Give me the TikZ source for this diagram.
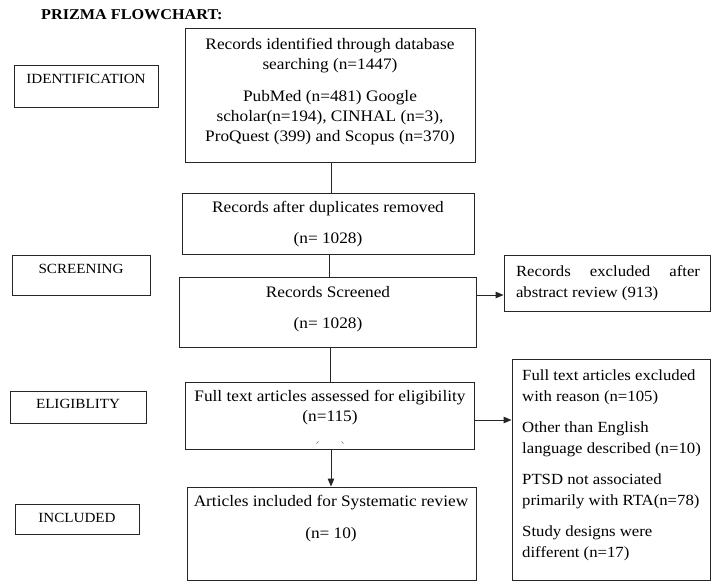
\documentclass[tikz,border=0pt]{standalone}
\usepackage{fontspec}
\setmainfont[FakeStretch=1.08]{Liberation Serif}
\usetikzlibrary{arrows.meta,fit}
\begin{document}
\begin{tikzpicture}[x=1pt,y=-1pt,
  box/.style={draw=black!85, line width=0.9pt, inner sep=0pt},
  txt/.style={font=\fontsize{16}{20}\selectfont, align=center, inner sep=0pt},
  side/.style={font=\fontsize{15.5}{20.5}\selectfont, inner sep=0pt},
  lbl/.style={font=\fontsize{14}{16}\selectfont, inner sep=0pt},
  link/.style={draw=black!85, line width=1pt},
  arr/.style={link, -{Triangle[length=8pt,width=6.5pt]}}]
\useasboundingbox (0,0) rectangle (712,582);

% heading
\node[font=\bfseries\fontsize{15}{16}\selectfont, anchor=west, inner sep=0pt] (title) at (41,15) {PRIZMA FLOWCHART:};

% stage labels on the left
\node[box, fit={(14,65) (158,107)}] (lid) {};
\node[lbl] (lidt) at (86,79) {IDENTIFICATION};
\node[box, fit={(12,255) (150,295)}] (lsc) {};
\node[lbl] (lsct) at (81,268.5) {SCREENING};
\node[box, fit={(10,391) (146,423)}] (lel) {};
\node[lbl] (lelt) at (78,404) {ELIGIBLITY};
\node[box, fit={(15,504) (139,534)}] (lin) {};
\node[lbl] (lint) at (77,518) {INCLUDED};

% main flow
\node[box, fit={(185,28) (475,162)}] (ident) {};
\node[txt] (identt) at (330,91.5) {Records identified through database\\ searching (n=1447)\\[12pt] PubMed (n=481) Google\\ scholar(n=194), CINHAL (n=3),\\ ProQuest (399) and Scopus (n=370)};

\node[box, fit={(182,193) (474,254)}] (dup) {};
\node[txt] (dupt) at (328,224) {Records after duplicates removed\\[11pt] (n= 1028)};

\node[box, fit={(179,277) (476,347)}] (screen) {};
\node[txt] (screent) at (328,309) {Records Screened\\[11pt] (n= 1028)};

\node[box, fit={(185,382) (474,449)}] (assess) {};
\node[txt] (assesst) at (330,408) {Full text articles assessed for eligibility\\ (n=115)};
\draw[black!60, line width=0.6pt] (316.5,443.5) -- (318.5,441.5) (341.5,441.5) -- (343.5,443.5);

\node[box, fit={(187,487) (476,580)}] (incl) {};
\node[txt] (inclt) at (331,519) {Articles included for Systematic review\\[12pt] (n= 10)};

% exclusion boxes
\node[box, fit={(504,255) (710,311)}] (excl1) {};
\node[side, align=justify, text width=184pt] (excl1t) at (608,283) {Records excluded after\linebreak abstract review (913)};

\node[box, fit={(512,359) (710,580)}] (excl2) {};
\node[side, align=left, anchor=west] (excl2t) at (522,465.5) {Full text articles excluded\\ with reason (n=105)\\[11pt] Other than English\\ language described (n=10)\\[11pt] PTSD not associated\\ primarily with RTA(n=78)\\[11pt] Study designs were\\ different (n=17)};

% connectors
\draw[link] ([xshift=1pt]ident.south) -- ([xshift=1pt]ident.south |- dup.north);
\draw[link] ([xshift=1pt]dup.south) -- ([xshift=1pt]dup.south |- screen.north);
\draw[link] ([xshift=2.5pt]screen.south) -- ([xshift=2.5pt]screen.south |- assess.north);
\draw[arr] ([xshift=1.5pt]assess.south) -- ([xshift=1.5pt]assess.south |- incl.north);
\coordinate (a1) at ([yshift=-12pt]excl1.west);
\draw[arr] (screen.east |- a1) -- (a1);
\coordinate (a2) at ([yshift=-4.5pt]excl2.west |- assess.east);
\draw[arr] (assess.east |- a2) -- (a2);
\end{tikzpicture}
\end{document}
